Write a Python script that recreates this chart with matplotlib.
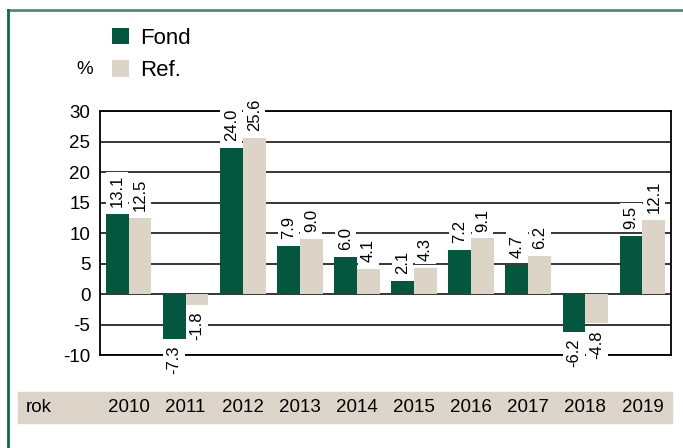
import matplotlib
matplotlib.use('Agg')
import matplotlib.pyplot as plt
import matplotlib.transforms as mtransforms
from matplotlib.patches import Rectangle
from matplotlib.lines import Line2D
import numpy as np

plt.rcParams['font.family'] = ['Liberation Sans', 'DejaVu Sans']

# data
years = ['2010', '2011', '2012', '2013', '2014', '2015', '2016', '2017', '2018', '2019']
fond = [13.1, -7.3, 24.0, 7.9, 6.0, 2.1, 7.2, 4.7, -6.2, 9.5]
ref = [12.5, -1.8, 25.6, 9.0, 4.1, 4.3, 9.1, 6.2, -4.8, 12.1]
series_names = ['Fond', 'Ref.']
yticks = [-10, -5, 0, 5, 10, 15, 20, 25, 30]

green = '#04573e'
beige = '#ddd4c8'

fig = plt.figure(figsize=(6.83, 4.48), dpi=100)
ax = fig.add_axes([100 / 683, 1 - 355 / 448, 571 / 683, 244 / 448])

x = np.arange(len(years))
w = 0.4
b1 = ax.bar(x - w / 2, fond, w, color=green, zorder=3, label=series_names[0])
b2 = ax.bar(x + w / 2, ref, w, color=beige, zorder=3, label=series_names[1])

ax.set_xlim(-0.5, len(years) - 0.5)
ax.set_ylim(-10, 30)
ax.set_yticks(yticks)
ax.set_yticklabels([str(t) for t in yticks], fontsize=13.5)
ax.set_xticks([])
ax.tick_params(axis='y', length=0, pad=7)
ax.yaxis.grid(True, color='black', linewidth=1.1, zorder=1)
ax.set_axisbelow(True)
for s in ax.spines.values():
    s.set_linewidth(1.3)
    s.set_color('black')

# value labels
for bars, vals in [(b1, fond), (b2, ref)]:
    for bar, v in zip(bars, vals):
        cx = bar.get_x() + bar.get_width() / 2
        off = 5 if v >= 0 else -5
        ax.annotate(f'{v:.1f}', (cx, v), xytext=(0, off), textcoords='offset points',
                    rotation=90, ha='center', va='bottom' if v >= 0 else 'top',
                    fontsize=12, zorder=6, annotation_clip=False,
                    bbox=dict(boxstyle='square,pad=0.2', fc='white', ec='none'))

# year band
fig.patches.append(Rectangle((18 / 683, 1 - 423 / 448), 654 / 683, 31 / 448,
                             transform=fig.transFigure, color='#ddd5c9', zorder=0))
fig.text(26 / 683, 1 - 407.5 / 448, 'rok', fontsize=13.5, va='center', ha='left')
trans = mtransforms.blended_transform_factory(ax.transData, fig.transFigure)
for xi, yr in zip(x, years):
    fig.text(xi, 1 - 407.5 / 448, yr, transform=trans, fontsize=13.5, ha='center', va='center')

# legend and unit
fig.legend(handles=[b1, b2], labels=series_names, loc='upper left',
           bbox_to_anchor=(112 / 683, 1 - 28 / 448), frameon=False, fontsize=16,
           handlelength=0.75, handleheight=0.75, handletextpad=0.5,
           labelspacing=0.5, borderaxespad=0, borderpad=0)
fig.text(85 / 683, 1 - 69 / 448, '%', fontsize=13.5, ha='center', va='center')

# outer frame (top and left only)
fig.add_artist(Line2D([8 / 683, 1], [1 - 10 / 448, 1 - 10 / 448], transform=fig.transFigure,
                      color='#4f8b72', linewidth=2))
fig.add_artist(Line2D([8 / 683, 8 / 683], [0, 1 - 10 / 448], transform=fig.transFigure,
                      color='#0e6a48', linewidth=2))

fig.savefig('out.png', dpi=100)
